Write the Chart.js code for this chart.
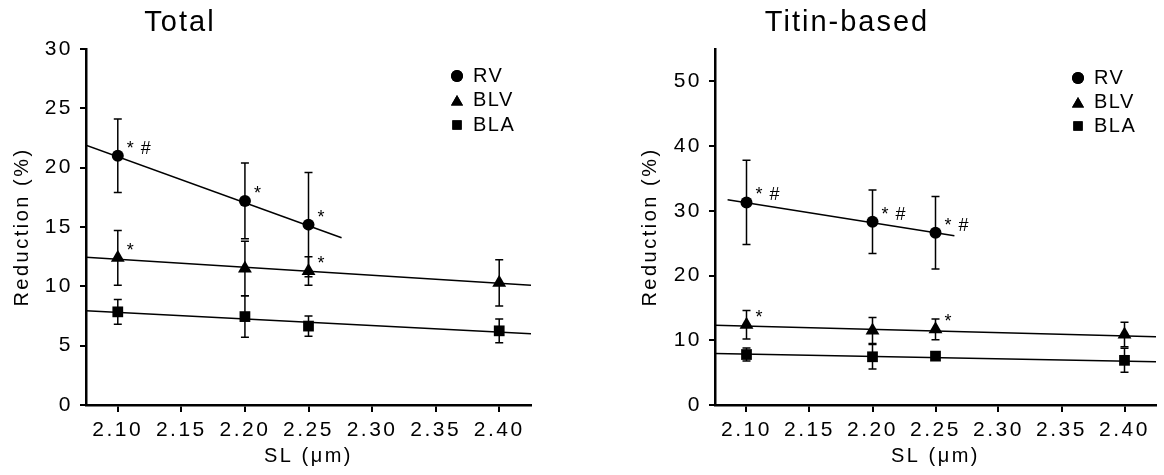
<!DOCTYPE html>
<html>
<head>
<meta charset="utf-8">
<script src="https://cdn.jsdelivr.net/npm/chart.js@4.4.1/dist/chart.umd.min.js"></script>
<style>
  body { margin:0; background:#fff; }
  #wrap { position:relative; width:1164px; height:475px; }
  canvas { position:absolute; top:0; }
</style>
</head>
<body>
<div id="wrap">
  <canvas id="left" width="582" height="475" style="left:0"></canvas>
  <canvas id="right" width="582" height="475" style="left:582px"></canvas>
</div>
<script>
const slValues = [2.10, 2.20, 2.25, 2.40];
const xTicks = [2.10, 2.15, 2.20, 2.25, 2.30, 2.35, 2.40];
const yTicksTotal = [0, 5, 10, 15, 20, 25, 30];
const yTicksTitin = [0, 10, 20, 30, 40, 50];
const seriesNames = ['RV', 'BLV', 'BLA'];

// ---- Total ----
const totalRV = [21.0, 17.2, 15.2];
const totalRVErr = [3.1, 3.2, 4.4];
const totalBLV = [12.4, 11.5, 11.3, 10.3];
const totalBLVErr = [2.3, 2.3, 1.2, 1.95];
const totalBLA = [7.85, 7.45, 6.65, 6.25];
const totalBLAErr = [1.05, 1.75, 0.85, 1.0];
// regression lines, end points
const totalFitRV = [[2.075, 21.9], [2.276, 14.1]];
const totalFitBLV = [[2.075, 12.45], [2.425, 10.1]];
const totalFitBLA = [[2.075, 7.95], [2.425, 6.0]];
const totalMarks = [['RV', 0, '* #'], ['RV', 1, '*'], ['RV', 2, '*'], ['BLV', 0, '*'], ['BLV', 2, '*']];

// ---- Titin-based ----
const titinRV = [31.3, 28.3, 26.6];
const titinRVErr = [6.5, 4.9, 5.6];
const titinBLV = [12.4, 11.5, 11.7, 10.9];
const titinBLVErr = [2.2, 2.0, 1.6, 1.9];
const titinBLA = [7.8, 7.45, 7.55, 6.9];
const titinBLAErr = [1.0, 1.9, 0.4, 1.85];
const titinFitRV = [[2.085, 31.7], [2.265, 26.15]];
const titinFitBLV = [[2.075, 12.33], [2.425, 10.54]];
const titinFitBLA = [[2.075, 7.97], [2.425, 6.68]];
const titinMarks = [['RV', 0, '* #'], ['RV', 1, '* #'], ['RV', 2, '* #'], ['BLV', 0, '*'], ['BLV', 2, '*']];

const FONT = "'Liberation Sans', Arial, Helvetica, sans-serif";
const pointStyles = { RV: 'circle', BLV: 'triangle', BLA: 'rect' };
const pointRadius = { RV: 6, BLV: 8, BLA: 7.6 };

function makeChart(id, o) {
  const datasets = [];
  // fit lines first so markers sit on top
  seriesNames.forEach(name => {
    datasets.push({
      type: 'line',
      data: o.fits[name].map(p => ({ x: p[0], y: p[1] })),
      borderColor: '#000',
      borderWidth: 1.5,
      pointRadius: 0,
      fill: false
    });
  });
  seriesNames.forEach(name => {
    datasets.push({
      label: name,
      data: o.vals[name].map((v, i) => ({ x: slValues[i], y: v })),
      pointStyle: pointStyles[name],
      pointRadius: pointRadius[name],
      backgroundColor: '#000',
      borderColor: '#000',
      borderWidth: 0,
      showLine: false
    });
  });

  // error bars (mean +/- err), drawn under the markers
  const errorBars = {
    id: 'errorBars',
    beforeDatasetsDraw(chart) {
      const ctx = chart.ctx, xs = chart.scales.x, ys = chart.scales.y;
      ctx.save();
      ctx.strokeStyle = '#000';
      ctx.lineWidth = 1.5;
      seriesNames.forEach(name => {
        o.vals[name].forEach((v, i) => {
          const e = o.errs[name][i];
          const px = xs.getPixelForValue(slValues[i]);
          const top = ys.getPixelForValue(v + e);
          const bot = ys.getPixelForValue(v - e);
          ctx.beginPath();
          ctx.moveTo(px, top); ctx.lineTo(px, bot);
          ctx.moveTo(px - 4, top); ctx.lineTo(px + 4, top);
          ctx.moveTo(px - 4, bot); ctx.lineTo(px + 4, bot);
          ctx.stroke();
        });
      });
      ctx.restore();
    }
  };

  // the figure's lettering is widely spaced
  const spacing = {
    id: 'spacing',
    beforeDraw(chart) { chart.ctx.letterSpacing = '2.5px'; }
  };

  const extras = {
    id: 'extras',
    afterDraw(chart) {
      const ctx = chart.ctx, xs = chart.scales.x, ys = chart.scales.y;
      ctx.save();
      ctx.fillStyle = '#000';
      // title
      ctx.letterSpacing = '2px';
      ctx.font = '29px ' + FONT;
      ctx.textAlign = 'center';
      ctx.textBaseline = 'middle';
      ctx.fillText(o.title, o.titleX, 23);
      // legend
      ctx.letterSpacing = '1.5px';
      ctx.font = '20px ' + FONT;
      ctx.textAlign = 'left';
      seriesNames.forEach((name, k) => {
        const y = o.legendY[k];
        Chart.helpers.drawPoint(ctx, { pointStyle: pointStyles[name], radius: pointRadius[name] - (name === 'RV' ? 0 : 1), rotation: 0, borderWidth: 0 }, o.legendX, y + (name === 'BLV' ? 2 : 0));
        ctx.fill();
        ctx.fillText(name, o.legendX + 16, y);
      });
      // significance marks
      ctx.letterSpacing = '1px';
      ctx.font = '18px ' + FONT;
      ctx.textBaseline = 'alphabetic';
      o.marks.forEach(m => {
        const v = o.vals[m[0]][m[1]];
        const px = xs.getPixelForValue(slValues[m[1]]);
        const py = ys.getPixelForValue(v);
        ctx.fillText(m[2], px + 9, py - 2);
      });
      ctx.restore();
    }
  };

  return new Chart(document.getElementById(id), {
    type: 'scatter',
    data: { datasets },
    plugins: [spacing, errorBars, extras],
    options: {
      responsive: false,
      animation: false,
      devicePixelRatio: 1,
      layout: { padding: { top: 49, right: o.padRight, bottom: 0, left: 0 } },
      plugins: { legend: { display: false }, tooltip: { enabled: false }, title: { display: false } },
      scales: {
        x: {
          type: 'linear',
          min: 2.075,
          max: 2.425,
          afterBuildTicks: s => { s.ticks = xTicks.map(v => ({ value: v })); },
          afterFit: s => { s.height = 70; },
          ticks: { callback: v => v.toFixed(2), color: '#000', font: { family: FONT, size: 21 }, padding: 6, autoSkip: false, maxRotation: 0 },
          grid: { drawOnChartArea: false, drawTicks: true, tickLength: 7, color: '#000', lineWidth: 2 },
          border: { display: true, color: '#000', width: 2.5 },
          title: { display: true, text: 'SL (\u03bcm)', color: '#000', font: { family: FONT, size: 20 }, padding: { top: 0, bottom: 7 } }
        },
        y: {
          type: 'linear',
          min: 0,
          max: o.yMax,
          afterBuildTicks: s => { s.ticks = o.yTicks.map(v => ({ value: v })); },
          afterFit: s => { s.width = o.yWidth; },
          ticks: { color: '#000', font: { family: FONT, size: 21 }, padding: 7 },
          grid: { drawOnChartArea: false, drawTicks: true, tickLength: 6, color: '#000', lineWidth: 2 },
          border: { display: true, color: '#000', width: 2.5 },
          title: { display: true, text: 'Reduction (%)', color: '#000', font: { family: FONT, size: 20 }, padding: { top: o.yTitlePad, bottom: 0 } }
        }
      }
    }
  });
}

makeChart('left', {
  title: 'Total', titleX: 180,
  yMax: 30, yTicks: yTicksTotal, yWidth: 86, padRight: 51, yTitlePad: 10,
  vals: { RV: totalRV, BLV: totalBLV, BLA: totalBLA },
  errs: { RV: totalRVErr, BLV: totalBLVErr, BLA: totalBLAErr },
  fits: { RV: totalFitRV, BLV: totalFitBLV, BLA: totalFitBLA },
  marks: totalMarks,
  legendX: 457, legendY: [76, 100, 125]
});

makeChart('right', {
  title: 'Titin-based', titleX: 265,
  yMax: 55, yTicks: yTicksTitin, yWidth: 133, padRight: 6, yTitlePad: 56,
  vals: { RV: titinRV, BLV: titinBLV, BLA: titinBLA },
  errs: { RV: titinRVErr, BLV: titinBLVErr, BLA: titinBLAErr },
  fits: { RV: titinFitRV, BLV: titinFitBLV, BLA: titinFitBLA },
  marks: titinMarks,
  legendX: 496, legendY: [78, 102, 126]
});
</script>
</body>
</html>
